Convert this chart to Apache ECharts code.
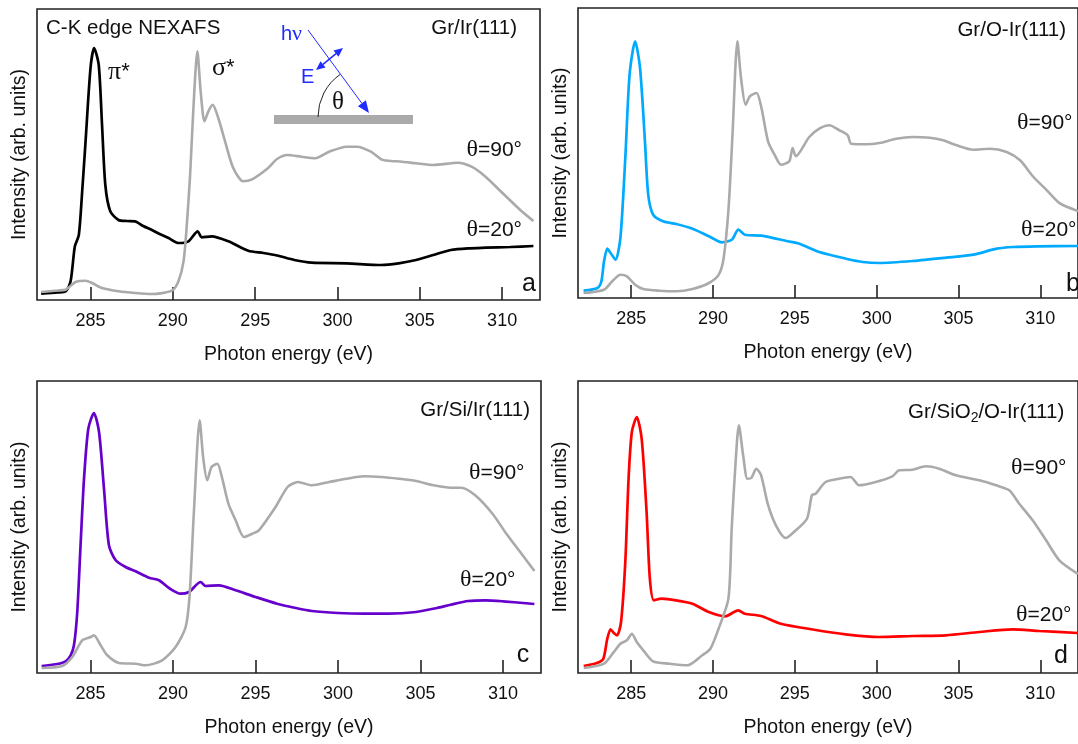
<!DOCTYPE html>
<html>
<head>
<meta charset="utf-8">
<script src="https://cdn.jsdelivr.net/npm/echarts@6/dist/echarts.min.js"></script>
<style>
html,body{margin:0;padding:0;background:#fff;}
#chart{width:1078px;height:744px;}
</style>
</head>
<body>
<div id="chart"></div>
<script>
// ---- axis range and tick labels (photon energy, eV) ----
const X_MIN = 281.75;
const X_MAX = 312.3;
const E_TICKS = [285, 290, 295, 300, 305, 310];

// ---- panel titles ----
const PANEL_TITLES = ['Gr/Ir(111)', 'Gr/O-Ir(111)', 'Gr/Si/Ir(111)', 'Gr/SiO2/O-Ir(111)'];
const PANEL_LETTERS = ['a', 'b', 'c', 'd'];

// ---- series: [photon energy (eV), intensity (arb. units)] ----
// (a) Gr/Ir(111)
const aTheta20 = [[282.0,6.3],[283.0,7.5],[283.5,8.7],[283.79,18.7],[284.05,53.7],[284.29,65],[284.5,110],[284.7,158.7],[285.0,232],[285.22,252],[285.5,235],[285.7,175],[285.9,115],[286.2,88.7],[286.7,80],[287.2,79],[287.7,78.7],[288.2,74],[288.73,70],[289.2,66],[289.74,62],[290.34,57],[290.95,58.7],[291.51,68.7],[291.75,62.7],[292.36,63.7],[293.37,58.7],[294.58,49.3],[295.5,47],[296.33,44.5],[297.38,40],[298.44,37.3],[300.55,36.7],[302.66,35],[303.71,36.7],[304.77,40],[305.82,45],[306.88,50],[307.93,51.7],[309.0,52.3],[310.5,53],[311.9,54]];
const aTheta90 = [[282.0,8],[283.0,9.5],[283.49,10.3],[284.09,18],[284.7,19.3],[285.1,17],[285.7,12],[286.71,8.7],[287.72,7],[288.73,6],[289.94,9.3],[290.34,18.7],[290.65,38.7],[290.85,75.3],[291.05,125.3],[291.25,192],[291.49,248.7],[291.69,208.7],[291.92,178.7],[292.16,188.7],[292.42,195.3],[292.76,182],[293.17,158.7],[293.67,132],[294.27,118.7],[294.78,120.3],[295.79,132],[296.33,141],[296.96,145],[297.81,143.3],[298.65,141.7],[299.49,148.3],[300.55,153.3],[301.18,153.3],[302.03,148.3],[302.66,140.7],[303.08,139.3],[303.92,138.3],[304.77,136.7],[305.82,135],[307.3,137.3],[308.14,133.3],[308.99,123.3],[310.04,106.7],[311.1,90],[311.9,79]];
// (b) Gr/O-Ir(111)
const bTheta20 = [[282.09,7.3],[282.94,10],[283.18,16.7],[283.34,36.7],[283.54,49.3],[283.74,45],[284.04,38.3],[284.34,60],[284.64,140],[284.9,223],[285.24,256.7],[285.54,230],[285.84,156.7],[286.04,103.3],[286.34,83.3],[286.94,76.7],[287.75,74],[288.75,69.3],[289.75,61.7],[290.55,55.7],[291.15,58.3],[291.55,68.3],[291.95,63.3],[292.96,62.3],[294.56,56.7],[295.27,54.3],[296.49,46],[298.13,39.3],[299.15,36],[300.17,35],[302.22,37],[304.26,40.3],[305.9,43.3],[307.33,49.3],[308.35,51],[309.79,51.7],[312.3,52]];
const bTheta90 = [[282.09,5],[283.34,8.3],[283.84,16.7],[284.34,23.3],[284.74,21.7],[285.24,13.3],[285.74,9],[286.74,7.3],[287.75,6.7],[288.75,9],[289.75,15],[290.35,23.3],[290.65,40],[290.95,90],[291.19,163.3],[291.49,256.7],[291.71,220],[291.99,193.3],[292.25,201.7],[292.66,205],[292.96,190],[293.36,156.7],[293.76,143.3],[294.16,133.3],[294.66,136.7],[294.86,150],[295.06,141.7],[295.88,161],[296.49,169.3],[297.11,172.7],[297.72,167.7],[298.23,162.7],[298.44,154.3],[299.36,153.7],[300.17,155],[301.2,159.3],[302.22,161],[303.24,160.3],[304.06,157.7],[304.88,152.7],[305.9,148.3],[306.92,149.3],[307.94,146],[308.76,137.7],[309.58,121],[310.4,107.7],[311.22,94.3],[312.3,87]];
// (c) Gr/Si/Ir(111)
const cTheta20 = [[282.03,7],[282.88,8.7],[283.48,11.7],[283.79,17.7],[283.99,27.7],[284.19,61],[284.39,127.7],[284.6,194.3],[284.86,244.3],[285.2,260],[285.51,241],[285.81,184.3],[286.11,127.7],[286.52,112.7],[287.12,106],[287.73,101.7],[288.54,95.3],[289.14,92.7],[289.75,85],[290.45,79.3],[290.96,81],[291.67,91],[291.97,87],[292.78,87.7],[293.79,82.7],[295.0,76],[296.3,69.3],[297.36,65.3],[298.41,62],[300.0,60],[301.57,59.3],[303.04,59.3],[304.73,61],[305.99,65],[306.83,68.3],[307.88,72],[308.94,72.7],[309.99,71.7],[311.9,69]];
const cTheta90 = [[282.03,5],[283.28,7],[283.89,16],[284.49,32.7],[285.0,36],[285.2,37.7],[285.61,27.7],[286.01,17.7],[286.72,10],[287.73,9.3],[288.33,7.7],[289.34,12.7],[290.15,26],[290.76,46],[291.0,77.7],[291.26,161],[291.61,252.7],[291.83,214.3],[292.07,192.7],[292.33,206],[292.68,209.3],[292.98,194.3],[293.35,169.3],[293.79,152.7],[294.3,136],[294.8,139.3],[295.2,142.7],[296.21,166],[296.94,186],[297.57,191],[298.41,187.7],[299.46,191],[300.52,194.3],[301.57,196.7],[302.62,196],[303.67,194.3],[304.73,192],[305.78,187.7],[306.83,185.3],[307.46,185.3],[308.31,177.7],[309.36,159.3],[310.2,139.3],[311.04,121],[311.9,102]];
// (d) Gr/SiO2/O-Ir(111)
const dTheta20 = [[282.1,7],[282.94,10.3],[283.3,14.3],[283.54,34.3],[283.74,43.7],[283.94,40],[284.14,37.7],[284.38,51],[284.64,111],[284.84,194.3],[285.04,241],[285.34,256],[285.64,234.3],[285.94,161],[286.14,94.3],[286.38,72.7],[286.84,74.3],[287.74,72.7],[288.74,69.3],[289.74,61],[290.74,56.7],[291.54,62.7],[291.94,59.3],[292.94,57],[294.14,49.3],[296.1,43.5],[298.1,38.7],[300.14,36],[302.18,37],[304.22,37.7],[306.27,41],[308.31,43.7],[309.94,42],[312.3,40]];
const dTheta90 = [[282.1,5],[283.34,9.3],[283.94,21],[284.34,29.3],[284.74,32.7],[285.04,39.3],[285.34,31],[285.74,22.7],[286.34,11.7],[287.34,9.3],[288.44,7.7],[289.34,17.7],[289.84,24.3],[290.34,44.3],[290.94,74.3],[291.14,144.3],[291.38,211],[291.58,247.7],[291.84,217.7],[292.1,194.3],[292.34,195],[292.64,204.3],[292.94,197.7],[293.34,169.3],[293.84,147.7],[294.44,135],[294.94,141],[295.74,154.3],[296.04,177.7],[296.27,179.3],[296.88,191],[297.69,194.3],[298.41,196],[298.92,187.7],[299.94,191],[300.96,196.7],[301.37,202.7],[302.18,203.3],[303.0,206.7],[303.82,204.3],[304.84,197.7],[306.27,192.7],[307.29,187.7],[308.1,182.7],[308.71,169.3],[309.53,152.7],[310.35,132.7],[311.16,112.7],[312.3,99]];

const THETA20 = [aTheta20, bTheta20, cTheta20, dTheta20];
const THETA90 = [aTheta90, bTheta90, cTheta90, dTheta90];
const COLORS20 = ['#000000', '#00aaff', '#6600cc', '#ff0000'];
const GRAY = '#aaaaaa';

// ---- layout ----
const GRIDS = [
  {left: 37,  top: 9,   width: 503, height: 291},
  {left: 578, top: 8,   width: 508, height: 290},
  {left: 37,  top: 381, width: 504, height: 292},
  {left: 578, top: 381, width: 508, height: 292}
];
const SANS = 'Liberation Sans, Arial, Helvetica, sans-serif';
const SERIF = 'Liberation Serif, Times New Roman, serif';
const INK = '#111';

const grid = GRIDS.map(g => Object.assign({show: true, borderColor: '#222', borderWidth: 1.6, backgroundColor: 'transparent'}, g));

const xAxis = GRIDS.map((g, i) => ({
  type: 'value', gridIndex: i, min: X_MIN, max: X_MAX,
  axisLine: {show: false},
  axisTick: {show: true, inside: true, length: 13, customValues: E_TICKS, lineStyle: {color: '#222', width: 1.6}},
  axisLabel: {customValues: E_TICKS, margin: 12, fontSize: 18, color: INK, fontFamily: SANS},
  splitLine: {show: false},
  name: 'Photon energy (eV)', nameLocation: 'middle', nameGap: 45,
  nameTextStyle: {fontSize: 19.5, color: INK, fontFamily: SANS}
}));

const yAxis = GRIDS.map((g, i) => ({
  type: 'value', gridIndex: i, min: 0, max: g.height,
  axisLine: {show: false}, axisTick: {show: false}, axisLabel: {show: false}, splitLine: {show: false},
  name: 'Intensity (arb. units)', nameLocation: 'middle', nameGap: 7,
  nameTextStyle: {fontSize: 19.5, color: INK, fontFamily: SANS}
}));

const series = [];
for (let i = 0; i < 4; i++) {
  series.push({type: 'line', xAxisIndex: i, yAxisIndex: i, data: THETA20[i], showSymbol: false, smooth: 0.25, clip: true, silent: true, z: 2,
    lineStyle: {color: COLORS20[i], width: 2.7}});
  series.push({type: 'line', xAxisIndex: i, yAxisIndex: i, data: THETA90[i], showSymbol: false, smooth: 0.25, clip: true, silent: true, z: 3,
    lineStyle: {color: GRAY, width: 2.6}});
}

// ---- annotations ----
function txt(x, y, text, size, align, extra) {
  return Object.assign({
    type: 'text', x: x, y: y, silent: true, z: 10,
    style: Object.assign({text: text, font: size + 'px ' + SANS, fill: INK, align: align || 'left', verticalAlign: 'middle'}, extra || {})
  });
}
const thetaRich = {t: {fontFamily: SERIF, fontSize: 24, fill: INK}};
function thetaLabel(x, y, deg, align) {
  return txt(x, y, '{t|θ}=' + deg + '°', 21, align, {rich: thetaRich});
}
const BLUE = '#1f2bff';
const graphic = [
  txt(46, 28, 'C-K edge NEXAFS', 20.5),
  txt(517, 28, PANEL_TITLES[0], 20.5, 'right'),
  txt(108, 72, '{g|π}*', 22, 'left', {rich: {g: {fontFamily: SERIF, fontSize: 26, fill: INK}}}),
  txt(212, 68, '{g|σ}*', 22, 'left', {rich: {g: {fontFamily: SERIF, fontSize: 26, fill: INK}}}),
  thetaLabel(522, 150, 90, 'right'),
  thetaLabel(522, 230, 20, 'right'),
  txt(529, 284, PANEL_LETTERS[0], 25, 'center'),
  // inset sketch
  {type: 'rect', silent: true, shape: {x: 274, y: 115, width: 139, height: 9}, style: {fill: GRAY}},
  {type: 'arc', silent: true, shape: {cx: 370, cy: 117, r: 52, startAngle: Math.PI, endAngle: 4.1, clockwise: true}, style: {stroke: '#222', lineWidth: 1, fill: null}},
  {type: 'line', silent: true, shape: {x1: 308, y1: 30, x2: 362, y2: 103.5}, style: {stroke: BLUE, lineWidth: 1}},
  {type: 'polygon', silent: true, shape: {points: [[369, 113], [357.9, 106.3], [365.9, 100.3]]}, style: {fill: BLUE}},
  {type: 'line', silent: true, shape: {x1: 323, y1: 64.3, x2: 336, y2: 53.7}, style: {stroke: BLUE, lineWidth: 1.5}},
  {type: 'polygon', silent: true, shape: {points: [[343, 48], [338.5, 56.8], [333.5, 50.6]]}, style: {fill: BLUE}},
  {type: 'polygon', silent: true, shape: {points: [[316, 70], [325.5, 67.4], [320.5, 61.2]]}, style: {fill: BLUE}},
  txt(281, 34, 'h{g|ν}', 20, 'left', {fill: BLUE, rich: {g: {fontFamily: SERIF, fontSize: 22, fill: BLUE}}}),
  txt(301, 77, 'E', 20, 'left', {fill: BLUE}),
  txt(338, 102, 'θ', 25, 'center', {font: '25px ' + SERIF}),
  // panel b
  txt(1066, 30, PANEL_TITLES[1], 20.5, 'right'),
  thetaLabel(1017, 123, 90, 'left'),
  thetaLabel(1021, 230, 20, 'left'),
  txt(1066, 284, PANEL_LETTERS[1], 25, 'left'),
  // panel c
  txt(530, 410, PANEL_TITLES[2], 20.5, 'right'),
  thetaLabel(469, 473, 90, 'left'),
  thetaLabel(460, 580, 20, 'left'),
  txt(523, 655, PANEL_LETTERS[2], 25, 'center'),
  // panel d
  txt(908, 412, '{n|Gr/SiO}{s|2}{n|/O-Ir(111)}', 20.5, 'left', {rich: {
    n: {fontFamily: SANS, fontSize: 20.5, fill: INK, lineHeight: 26, verticalAlign: 'middle'},
    s: {fontFamily: SANS, fontSize: 14, fill: INK, lineHeight: 14, verticalAlign: 'bottom'}}}),
  thetaLabel(1011, 468, 90, 'left'),
  thetaLabel(1016, 615, 20, 'left'),
  txt(1054, 656, PANEL_LETTERS[3], 25, 'left')
];

const chart = echarts.init(document.getElementById('chart'), null, {renderer: 'canvas'});
chart.setOption({
  animation: false,
  backgroundColor: '#ffffff',
  grid: grid,
  xAxis: xAxis,
  yAxis: yAxis,
  series: series,
  graphic: graphic
});
</script>
</body>
</html>
